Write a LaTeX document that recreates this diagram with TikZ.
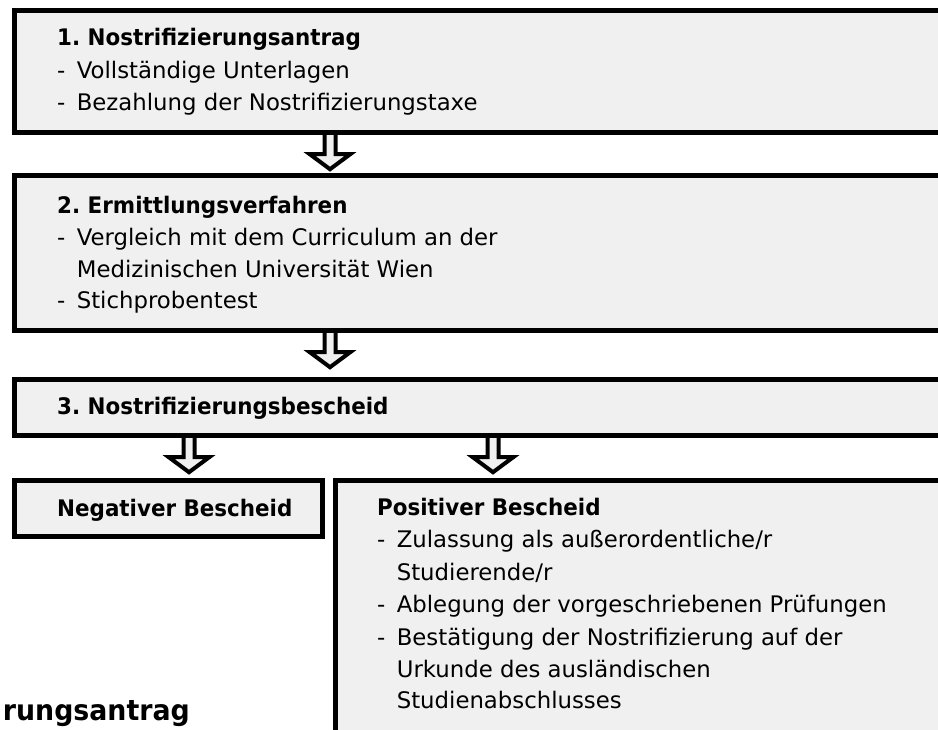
\documentclass[tikz,border=0pt]{standalone}
\usepackage{fontspec}
\setmainfont{DejaVu Sans}[BoldFeatures={FakeStretch=0.94}]
\usetikzlibrary{calc}
\definecolor{boxfill}{HTML}{F0F0F0}
\frenchspacing
\newcommand\dsh{-\hspace{0.5em}}
\newcommand\blockarrow[3]{%
  \draw[barrow] let \p1=(#2.south), \p2=(#3.north),
    \n1={\y1-2.5pt}, \n2={max(\y2+2.5pt,\y1-39.5pt)} in
    (#1pt-5.5pt,\n1) -- (#1pt-5.5pt,\n1-19pt) -- (#1pt-20.5pt,\n1-19pt)
    -- (#1pt,\n2+2.8pt) -- (#1pt+20.5pt,\n1-19pt) -- (#1pt+5.5pt,\n1-19pt)
    -- (#1pt+5.5pt,\n1);}
\begin{document}
\begin{tikzpicture}[x=1pt,y=1pt,
  box/.style={draw=black, line width=5pt, fill=boxfill, anchor=north west,
    inner sep=0pt, outer sep=0pt},
  txt/.style={anchor=base west, inner sep=0pt, text=black,
    font=\fontsize{22.8}{32}\selectfont},
  ttl/.style={txt, font=\fontsize{22.8}{32}\selectfont\bfseries},
  barrow/.style={draw=black, line width=4pt, fill=boxfill, line join=miter,
    miter limit=10}]
\useasboundingbox (0,0) rectangle (938,-729);
\clip (0,0) rectangle (938,-729);
% boxes
\node[box, minimum width=1000pt, minimum height=122pt] (b1) at (14.5,-10.5) {};
\node[box, minimum width=1000pt, minimum height=155pt] (b2) at (14.5,-175.5) {};
\node[box, minimum width=1000pt, minimum height=56pt] (b3) at (14.5,-379.5) {};
\node[box, minimum width=308pt, minimum height=56pt] (neg) at (14.5,-480.5) {};
\node[box, minimum width=700pt, minimum height=400pt] (pos) at (335.5,-480.5) {};
% arrows
\blockarrow{330}{b1}{b2}
\blockarrow{330}{b2}{b3}
\blockarrow{189}{b3}{neg}
\blockarrow{493}{b3}{pos}
% texts
\node[ttl] (t1) at (57,-45) {1. Nostrifizierungsantrag};
\node[txt] (t1a) at (57,-78) {\dsh Vollständige Unterlagen};
\node[txt] (t1b) at (57,-110) {\dsh Bezahlung der Nostrifizierungstaxe};
\node[ttl] (t2) at (57,-213) {2. Ermittlungsverfahren};
\node[txt] (t2a) at (57,-245) {\dsh Vergleich mit dem Curriculum an der};
\node[txt] (t2b) at (57,-277) {\phantom{\dsh}Medizinischen Universität Wien};
\node[txt] (t2c) at (57,-308) {\dsh Stichprobentest};
\node[ttl] (t3) at (57,-414) {3. Nostrifizierungsbescheid};
\node[ttl] (tn) at (57,-516) {Negativer Bescheid};
\node[ttl] (tp) at (377,-515) {Positiver Bescheid};
\node[txt] (tp1) at (377,-547) {\dsh Zulassung als außerordentliche/r};
\node[txt] (tp2) at (377,-580) {\phantom{\dsh}Studierende/r};
\node[txt] (tp3) at (377,-612) {\dsh Ablegung der vorgeschriebenen Prüfungen};
\node[txt] (tp4) at (377,-645) {\dsh Bestätigung der Nostrifizierung auf der};
\node[txt] (tp5) at (377,-677) {\phantom{\dsh}Urkunde des ausländischen};
\node[txt] (tp6) at (377,-708) {\phantom{\dsh}Studienabschlusses};
\node[ttl, anchor=base east, font=\fontsize{28.5}{32}\selectfont\bfseries] (frag) at (190,-720) {rungsantrag};
\end{tikzpicture}
\end{document}
